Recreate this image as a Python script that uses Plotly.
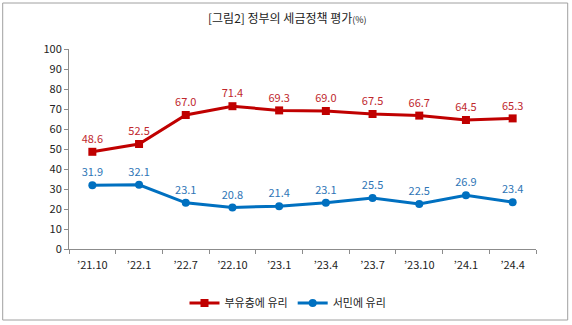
import plotly.graph_objects as go

categories = ["’21.10", "’22.1", "’22.7", "’22.10", "’23.1", "’23.4", "’23.7", "’23.10", "’24.1", "’24.4"]
rich_values = [48.6, 52.5, 67.0, 71.4, 69.3, 69.0, 67.5, 66.7, 64.5, 65.3]
poor_values = [31.9, 32.1, 23.1, 20.8, 21.4, 23.1, 25.5, 22.5, 26.9, 23.4]
y_ticks = [0, 10, 20, 30, 40, 50, 60, 70, 80, 90, 100]

FONT = "Noto Sans CJK KR"

fig = go.Figure()
fig.add_trace(go.Scatter(
    x=categories, y=rich_values, name="부유층에 유리",
    mode="lines+markers+text",
    line=dict(color="#C00000", width=3),
    marker=dict(symbol="square", size=8, color="#C00000"),
    texttemplate="%{y:.1f}", textposition="top center",
    textfont=dict(color="#C0272D", size=11, family=FONT),
))
fig.add_trace(go.Scatter(
    x=categories, y=poor_values, name="서민에 유리",
    mode="lines+markers+text",
    line=dict(color="#0070C0", width=3),
    marker=dict(symbol="circle", size=8, color="#0070C0"),
    texttemplate="%{y:.1f}", textposition="top center",
    textfont=dict(color="#2E75B6", size=11, family=FONT),
))

L, R, T, B = 69, 36, 49, 76
pw, ph = 572 - L - R, 325 - T - B

def px_x(p):
    return (p - L) / pw

def px_y(p):
    return (325 - B - p) / ph

fig.update_layout(
    width=572, height=325,
    margin=dict(l=L, r=R, t=T, b=B, autoexpand=False),
    paper_bgcolor="white", plot_bgcolor="white",
    font=dict(family=FONT, size=11, color="#222222"),
    showlegend=True,
    legend=dict(orientation="h", x=px_x(288), xanchor="center",
                y=px_y(303), yanchor="middle",
                font=dict(size=11, family=FONT, color="#222222"),
                itemwidth=30, tracegroupgap=0),
    xaxis=dict(
        type="category", range=[-0.5, 9.5],
        showline=True, linecolor="#8C8C8C", linewidth=1,
        ticks="outside", ticklen=4, tickcolor="#8C8C8C",
        tickson="boundaries", showgrid=False,
        ticklabelstandoff=6,
        tickfont=dict(size=11, color="#222222"),
    ),
    yaxis=dict(
        range=[0, 100], tickvals=y_ticks,
        showline=True, linecolor="#8C8C8C", linewidth=1,
        ticks="outside", ticklen=4, tickcolor="#8C8C8C",
        showgrid=False, zeroline=False,
        tickfont=dict(size=11, color="#222222"),
    ),
    shapes=[dict(
        type="rect", xref="paper", yref="paper",
        x0=px_x(2.7), x1=px_x(567.7), y0=px_y(320), y1=px_y(3),
        line=dict(color="#A0A0A0", width=1), fillcolor="rgba(0,0,0,0)",
        layer="below",
    )],
    annotations=[dict(
        text="[그림2] 정부의 세금정책 평가<span style='font-size:9px'>(%)</span>",
        xref="paper", yref="paper", x=px_x(287), y=px_y(17),
        xanchor="center", yanchor="middle", showarrow=False,
        font=dict(size=12, family=FONT, color="#222222"),
    )],
)

fig.write_html("out.html")
